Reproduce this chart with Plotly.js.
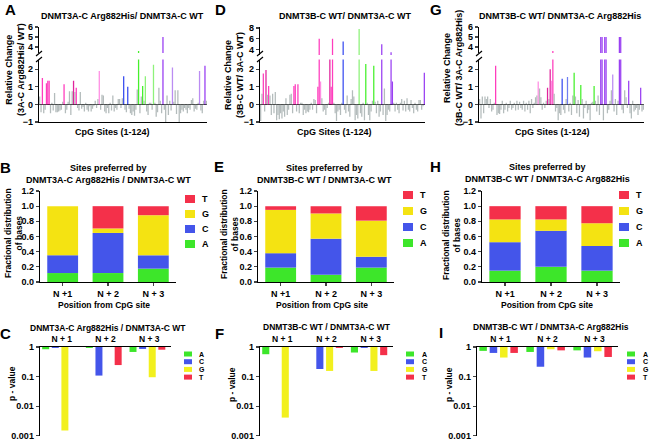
<!DOCTYPE html>
<html><head><meta charset="utf-8">
<script src="https://cdn.plot.ly/plotly-3.0.1.min.js"></script>
<style>html,body{margin:0;padding:0;background:#fff}#chart{width:651px;height:441px}</style>
</head><body><div id="chart"></div>
<script>
// ---------- DATA ----------
const cpgA = [0.45,-0.45,1.5,-0.5,-0.3,1.2,1.35,1.35,-0.5,0.1,
 -0.35,0.65,-0.45,-0.45,-0.4,-0.35,-0.3,0.15,1.15,-0.5,
 -0.3,0.15,0.75,-0.6,0.75,1.35,0.7,0.95,-0.2,-0.35,
 0.7,-0.25,-0.15,-0.4,0.1,-0.3,-0.4,-0.1,-0.4,-0.25,
 -0.1,0.2,-0.2,0.3,1.9,-0.3,0.55,0.5,-0.4,-0.5,
 -0.2,-0.5,0.1,-0.35,0.5,-0.4,-0.2,-0.3,0.3,0.3,
 -0.2,0.35,1.6,-0.3,-0.45,1.0,-0.25,-0.5,-0.6,-0.4,
 -0.65,-0.3,0.85,3.6,-0.5,0.45,1.05,0.2,1.6,-0.4,
 -0.6,0.1,0.1,-0.3,2.25,0.1,-0.7,-0.45,0.95,0.2,
 -0.5,5.0,-0.3,-1.0,0.5,-0.6,0.2,-0.35,2.1,0.15,
 0.8,-0.55,0.8,-1.0,-0.5,-0.3,-0.4,-0.2,-0.3,-0.5,
 -0.2,-0.3,0.25,0.35,-0.4,-0.25,-0.3,0.1,1.9,-0.35,
 -0.5,0.2,2.2,0.2];
const hiIdxA = [2,5,6,7,18,25,27,44,62,65,73,76,78,84,91,98,118,122];
const hiGrpA = ['P','P','P','P','P','M','P','LP','B','B','G','G','LG','LG','V','LV','LV','V'];

const cpgD = [-0.95,0.6,1.75,-0.4,1.95,0.55,1.05,0.5,-0.6,0.6,
 -0.5,0.7,-0.9,-0.6,-0.85,-0.5,-0.8,-0.4,-0.7,0.35,
 -0.6,-0.3,0.55,0.6,-0.5,1.05,1.15,-0.4,1.15,-0.5,
 0.1,0.1,-0.6,-0.3,-0.5,-0.4,-0.45,-0.3,0.1,-0.3,
 0.3,0.25,-0.5,1.0,6.0,1.3,0.35,-0.4,-0.3,-0.6,
 -0.2,0.1,2.7,1.0,6.0,0.1,-0.5,-0.95,-0.4,-0.3,
 -0.6,0.1,5.5,-0.3,-0.5,0.5,-0.4,-0.7,0.3,0.8,
 0.45,-0.9,-0.6,-0.8,7.8,-0.5,-0.7,0.1,-0.9,2.3,
 0.1,-0.6,-0.9,-0.4,0.2,2.2,0.15,-0.5,0.2,-0.7,
 -0.4,5.0,-0.6,0.9,-0.95,-0.6,-0.3,-0.4,3.5,1.3,
 0.1,-0.4,0.1,-0.3,-0.5,0.1,0.3,-0.35,0.2,-0.4,
 0.35,-0.3,-0.4,0.25,-0.2,-0.5,0.1,-0.3,-0.4,0.25,
 0.25,-0.3,-0.1,1.8];
const hiIdxD = [2,4,6,25,26,28,43,44,45,52,53,54,62,74,79,85,91,98,99,123];
const hiGrpD = ['P','M','P','P','P','P','P','P','LP','M','P','P','B','LG','G','G','V','V','V','V'];

const cpgG = [0.3,-0.8,0.45,-0.5,0.45,0.3,0.45,-0.2,0.3,-0.4,
 -0.3,0.1,2.2,-0.6,-0.5,-0.55,-0.3,0.2,-0.5,-0.3,
 0.1,-0.4,-0.2,0.2,-0.3,-0.2,0.1,-0.35,0.2,-0.3,
 0.15,-0.2,-0.3,0.2,-0.4,0.1,-0.3,0.2,-0.5,0.3,
 -0.2,0.1,0.4,0.5,1.3,0.9,0.4,-0.3,0.1,-0.2,
 0.2,0.95,0.3,2.0,1.35,3.6,0.6,-0.4,-0.2,-0.9,
 -0.5,-0.6,1.45,-0.3,-0.5,0.3,1.55,-0.4,0.1,-0.6,
 0.5,1.8,0.45,-0.5,0.25,-0.7,1.1,0.3,-0.8,-0.2,
 0.2,-0.5,-0.3,-0.9,0.1,0.15,1.05,0.2,-0.4,0.5,
 -0.6,5.0,5.0,-0.9,5.0,5.0,-0.5,-0.3,0.2,0.8,
 1.7,-0.4,0.3,-0.6,0.2,5.0,5.0,-0.3,-0.5,0.8,
 0.4,-0.2,1.35,-0.5,-0.8,0.2,-0.4,-0.3,-0.2,-0.6,
 -0.3,0.95,-0.4,-0.3];
const hiIdxG = [12,44,51,53,54,55,62,66,71,76,86,91,92,94,95,100,105,106,112,121];
const hiGrpG = ['P','LP','M','M','LP','P','B','LB','G','G','G','V','V','V','V','LV','V','V','V','V'];

const posStack = ['N +1','N + 2','N + 3'];
const posP = ['N + 1','N + 2','N + 3'];
const baseNames = ['A','C','G','T'];

const fracB_A = [0.118,0.118,0.176], fracB_C = [0.235,0.529,0.176], fracB_G = [0.647,0.059,0.529], fracB_T = [0,0.294,0.118];
const fracE_A = [0.190,0.095,0.190], fracE_C = [0.190,0.476,0.143], fracE_G = [0.571,0.333,0.476], fracE_T = [0.048,0.095,0.190];
const fracH_A = [0.150,0.200,0.150], fracH_C = [0.375,0.475,0.325], fracH_G = [0.300,0.150,0.300], fracH_T = [0.175,0.175,0.225];

const pC_A = [0.84,0.93,0.68], pC_C = [0.93,0.108,0.86], pC_G = [0.0015,1,0.095], pC_T = [1,0.245,0.81];
const pF_A = [0.57,1,0.65], pF_C = [1,0.18,0.93], pF_G = [0.0041,0.155,0.155], pF_T = [1,0.93,0.53];
const pI_A = [0.74,0.68,0.77], pI_C = [0.63,0.215,0.44], pI_G = [0.44,0.84,0.72], pI_T = [0.63,0.77,0.46];

// ---------- STYLE ----------
const W = 651, H = 441;
const FONT = 'Liberation Sans, Arial, sans-serif';
const GRAY = '#b4bcbc';
const GROUP_COLORS = {P:'#ff3dbd', LP:'#ff8ee3', M:'#e0239c', B:'#3b4ff0', LB:'#6f7ef0',
  G:'#46f02c', LG:'#8ef27a', V:'#9a40f2', LV:'#bb8cf2'};
const BASE_COLORS = {A:'#3de62a', C:'#4455ea', G:'#f4e312', T:'#f4304a'};
const BASE_COLORS_P = {A:'#3de62a', C:'#4455ea', G:'#f2f01e', T:'#f4304a'};
const px = x => x / W, py = y => 1 - y / H;
const dx = (a, b) => [px(a), px(b)], dy = (top, bot) => [py(bot), py(top)];

const traces = [];
const layout = {
  width: W, height: H, margin: {l:0, r:0, t:0, b:0},
  paper_bgcolor: '#fff', plot_bgcolor: 'rgba(0,0,0,0)',
  barmode: 'overlay', showlegend: false,
  font: {family: FONT, size: 9, color: '#000', weight: 'bold'},
  annotations: [], shapes: []
};
const tickfont = {family: FONT, size: 9, color: '#000', weight: 'bold'};
const axLine = {showline: true, linecolor: '#000', linewidth: 1.3, showgrid: false, zeroline: false, fixedrange: true};

function ann(text, x, y, size, extra) {
  layout.annotations.push(Object.assign({text, x: px(x), y: py(y), xref: 'paper', yref: 'paper',
    showarrow: false, xanchor: 'center', yanchor: 'middle',
    font: {family: FONT, size, color: '#000', weight: 'bold'}}, extra || {}));
}
function line(x0, y0, x1, y1) {
  layout.shapes.push({type: 'line', xref: 'paper', yref: 'paper', x0: px(x0), y0: py(y0), x1: px(x1), y1: py(y1),
    line: {color: '#000', width: 1.2}});
}
function swatch(x, yc, w, h, color) {
  layout.shapes.push({type: 'rect', xref: 'paper', yref: 'paper', x0: px(x), x1: px(x + w), y0: py(yc + h / 2), y1: py(yc - h / 2),
    fillcolor: color, line: {width: 0}});
}

// ---------- TOP PANELS (A, D, G) ----------
function topPanel(n, vals, hiIdx, hiGrp, xDom, lowDom, upDom, upRange, upTicks) {
  const xl = 'x' + n, yl = 'y' + n, xu = 'x' + (n + 1), yu = 'y' + (n + 1);
  const xs = vals.map((_, i) => i + 1);
  const colors = vals.map(() => GRAY);
  hiIdx.forEach((k, j) => { colors[k] = GROUP_COLORS[hiGrp[j]]; });
  const tr = {type: 'bar', x: xs, y: vals, width: 0.95, marker: {color: colors, line: {width: 0}}, hoverinfo: 'skip'};
  traces.push(Object.assign({}, tr, {xaxis: xl, yaxis: yl}));
  traces.push(Object.assign({}, tr, {xaxis: xu, yaxis: yu}));
  const sfx = n === 1 ? '' : n;
  layout['xaxis' + sfx] = Object.assign({}, axLine, {domain: xDom, anchor: yl, range: [0.5, 124.5], showticklabels: false, ticks: ''});
  layout['yaxis' + sfx] = Object.assign({}, axLine, {domain: lowDom, anchor: xl, range: [-1, 2.55], tickvals: [-1, 0, 1, 2],
    ticks: 'outside', ticklen: 3, tickwidth: 1.2, tickfont, zeroline: true, zerolinecolor: '#000', zerolinewidth: 1.3});
  layout['xaxis' + (n + 1)] = {domain: xDom, anchor: yu, range: [0.5, 124.5], visible: false, fixedrange: true};
  layout['yaxis' + (n + 1)] = Object.assign({}, axLine, {domain: upDom, anchor: xu, range: upRange, tickvals: upTicks,
    ticks: 'outside', ticklen: 3, tickwidth: 1.2, tickfont});
}
topPanel(1, cpgA, hiIdxA, hiGrpA, dx(39, 207), dy(59.5, 122), dy(26.5, 53), [3.4, 6.05], [4, 5, 6]);
topPanel(3, cpgD, hiIdxD, hiGrpD, dx(260, 425), dy(59.5, 122), dy(26.9, 54.9), [3, 8.2], [4, 6, 8]);
topPanel(5, cpgG, hiIdxG, hiGrpG, dx(479, 644), dy(59.5, 122), dy(26.5, 53), [3.4, 6.05], [4, 5, 6]);
// axis break marks
[39, 260, 479].forEach(x => { line(x - 3, 56, x + 3, 51); line(x - 3, 62, x + 3, 57); });

ann('A', 10, 9, 15); ann('D', 220, 9, 15); ann('G', 436, 9, 15);
ann('DNMT3A-C Arg882His/ DNMT3A-C WT', 123, 16, 9);
ann('DNMT3B-C WT/ DNMT3A-C WT', 345, 16, 9);
ann('DNMT3B-C WT/ DNMT3A-C Arg882His', 560, 16, 9);
ann('Relative Change<br>(3A-C Arg882His/ WT)', 15, 70, 9, {textangle: -90});
ann('Relative Change<br>(3B-C WT/ 3A-C WT)', 234, 75, 9, {textangle: -90});
ann('Relative Change<br>(3B-C WT/ 3A-C Arg882His)', 453, 68, 9, {textangle: -90});
ann('CpG Sites (1-124)', 112, 132, 9);
ann('CpG Sites (1-124)', 334, 132, 9);
ann('CpG Sites (1-124)', 552, 132, 9);

// ---------- MIDDLE PANELS (B, E, H) ----------
function stackPanel(n, fr, xDom) {
  const xa = 'x' + n, ya = 'y' + n;
  let cum = [0, 0, 0];
  baseNames.forEach((b, j) => {
    const v = fr[j];
    traces.push({type: 'bar', x: posStack, y: v, base: cum.slice(), width: 0.68, xaxis: xa, yaxis: ya,
      marker: {color: BASE_COLORS[b], line: {width: 0}}, name: b, hoverinfo: 'skip'});
    cum = cum.map((c, i) => c + v[i]);
  });
  layout['xaxis' + n] = Object.assign({}, axLine, {domain: xDom, anchor: ya, type: 'category', range: [-0.5, 2.5],
    ticks: 'outside', ticklen: 3, tickwidth: 1.2, tickfont});
  layout['yaxis' + n] = Object.assign({}, axLine, {domain: dy(191, 282), anchor: xa, range: [0, 1.2], dtick: 0.2, tickformat: '.1f',
    ticks: 'outside', ticklen: 3, tickwidth: 1.2, tickfont});
}
stackPanel(7, [fracB_A, fracB_C, fracB_G, fracB_T], dx(40, 176));
stackPanel(8, [fracE_A, fracE_C, fracE_G, fracE_T], dx(258, 394));
stackPanel(9, [fracH_A, fracH_C, fracH_G, fracH_T], dx(482, 620));

ann('B', 5, 167, 15); ann('E', 219, 166, 15); ann('H', 435, 166, 15);
ann('Sites preferred by<br>DNMT3A-C Arg882His / DNMT3A-C WT', 108, 174, 9);
ann('Sites preferred by<br>DNMT3B-C WT / DNMT3A-C WT', 324, 174, 9);
ann('Sites preferred by<br>DNMT3B-C WT / DNMT3A-C Arg882His', 547, 173, 9);
ann('Fractional distribution<br>of bases', 13, 233, 8.5, {textangle: -90});
ann('Fractional distribution<br>of bases', 229, 234, 8.5, {textangle: -90});
ann('Fractional distribution<br>of bases', 452, 235, 8.5, {textangle: -90});
ann('Position from CpG site', 104, 305, 8.5);
ann('Position from CpG site', 322, 305, 8.5);
ann('Position from CpG site', 547, 305, 8.5);
// legends (T, G, C, A from top)
function stackLegend(sx, lx, ys) {
  ['T', 'G', 'C', 'A'].forEach((b, i) => { swatch(sx, ys[i], 10, 8, BASE_COLORS[b]); ann(b, lx, ys[i], 9, {xanchor: 'left'}); });
}
stackLegend(185, 200, [199, 214, 229, 244]);
stackLegend(403, 418, [195, 211, 227, 243]);
stackLegend(619, 634, [195, 211, 227, 243]);

// ---------- BOTTOM PANELS (C, F, I) ----------
const offsets = [-0.45, -0.23, -0.01, 0.21];
function pPanel(n, ps, xDom) {
  const xa = 'x' + n, ya = 'y' + n;
  baseNames.forEach((b, j) => {
    traces.push({type: 'bar', x: posP, y: ps[j].map(p => p - 1), base: 1, width: 0.16, offset: offsets[j],
      xaxis: xa, yaxis: ya, marker: {color: BASE_COLORS_P[b], line: {width: 0}}, name: b, hoverinfo: 'skip'});
  });
  layout['xaxis' + n] = Object.assign({}, axLine, {domain: xDom, anchor: ya, type: 'category', range: [-0.5, 2.5], side: 'top',
    ticks: '', tickfont: {family: FONT, size: 8.5, color: '#000', weight: 'bold'}});
  layout['yaxis' + n] = Object.assign({}, axLine, {domain: dy(347, 436), anchor: xa, type: 'log', range: [-3.01, 0],
    tickvals: [1, 0.1, 0.01, 0.001], ticktext: ['1', '0.1', '0.01', '0.001'], ticklabeloverflow: 'allow',
    ticks: 'outside', ticklen: 3, tickwidth: 1.2, tickfont});
}
pPanel(10, [pC_A, pC_C, pC_G, pC_T], dx(40, 171));
pPanel(11, [pF_A, pF_C, pF_G, pF_T], dx(260, 393));
pPanel(12, [pI_A, pI_C, pI_G, pI_T], dx(477, 618));

ann('C', 5, 333, 15); ann('F', 219, 333, 15); ann('I', 441, 332, 15);
ann('DNMT3A-C Arg882His / DNMT3A-C WT', 108, 328, 8.5);
ann('DNMT3B-C WT / DNMT3A-C WT', 327, 327, 8.5);
ann('DNMT3B-C WT / DNMT3A-C Arg882His', 551, 327, 8.5);
ann('p - value', 12, 384, 8.5, {textangle: -90});
ann('p - value', 232, 385, 8.5, {textangle: -90});
ann('p - value', 449, 385, 8.5, {textangle: -90});
function pLegend(sx, lx) {
  const ys = [354, 361.7, 369.4, 377.1];
  baseNames.forEach((b, i) => { swatch(sx, ys[i], 8, 5, BASE_COLORS_P[b]); ann(b, lx, ys[i], 7, {xanchor: 'left'}); });
}
pLegend(184, 197);
pLegend(406, 420);
pLegend(627, 641);

Plotly.newPlot('chart', traces, layout, {staticPlot: true, displayModeBar: false});
</script>
</body></html>
